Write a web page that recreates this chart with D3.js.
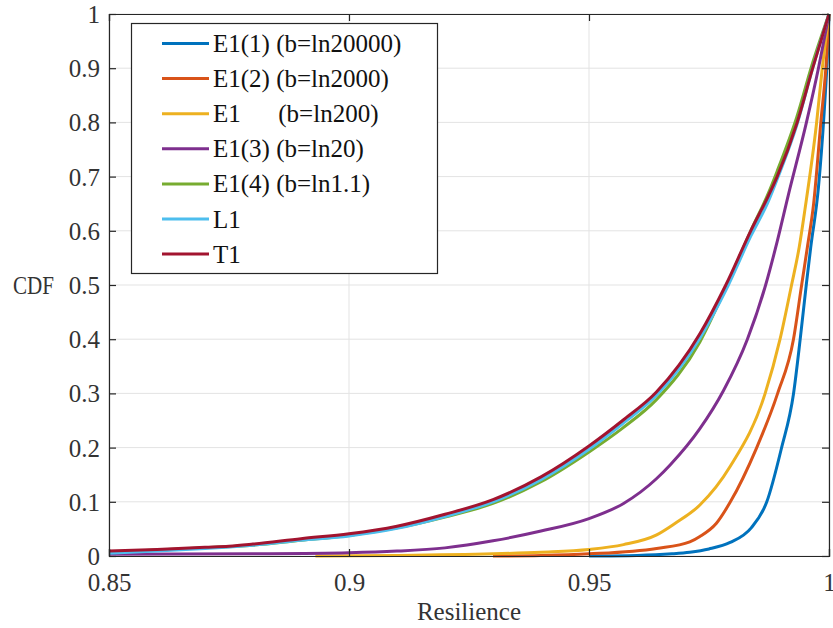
<!DOCTYPE html>
<html>
<head>
<meta charset="utf-8">
<script src="https://cdn.jsdelivr.net/npm/d3@7"></script>
<style>
  html, body { margin: 0; padding: 0; background: #fff; }
  svg { display: block; }
  svg text { font-family: "Liberation Serif", Tinos, "Times New Roman", Times, "DejaVu Serif", serif; }
  .lbl { white-space: pre; }
</style>
</head>
<body>
<svg id="chart" width="833" height="628"></svg>
<script>
// Empirical CDFs of resilience for each scheme, as [resilience, CDF] pairs
const seriesNames = [
  "E1(1) (b=ln20000)",
  "E1(2) (b=ln2000)",
  "E1      (b=ln200)",
  "E1(3) (b=ln20)",
  "E1(4) (b=ln1.1)",
  "L1",
  "T1"
];
const seriesColors = ["#0072BD", "#D95319", "#EDB120", "#7E2F8E", "#77AC30", "#4DBEEE", "#A2142F"];

const e1_1 = [[0.95,0.0],[0.96,0.001],[0.9673,0.004],[0.971,0.007],[0.975,0.013],[0.9794,0.025],[0.9838,0.052],[0.987,0.099],[0.9901,0.199],[0.9926,0.299],[0.994,0.40],[0.9953,0.503],[0.9962,0.57],[0.9978,0.68],[0.999,0.82],[0.9997,0.93],[1.0,1.0]];
const e1_2 = [[0.93,0.0],[0.94,0.001],[0.95,0.004],[0.9641,0.014],[0.971,0.026],[0.9731,0.036],[0.9765,0.06],[0.9794,0.099],[0.9849,0.199],[0.9893,0.30],[0.9926,0.40],[0.9943,0.50],[0.9955,0.57],[0.9968,0.65],[0.9983,0.80],[0.9995,0.92],[1.0,1.0]];
const e1 = [[0.893,0.0],[0.91,0.001],[0.93,0.004],[0.94,0.007],[0.95,0.012],[0.9572,0.021],[0.9641,0.039],[0.9679,0.06],[0.9731,0.094],[0.9794,0.165],[0.9867,0.30],[0.9898,0.40],[0.9922,0.50],[0.9938,0.57],[0.995,0.64],[0.9974,0.798],[0.9986,0.9],[1.0,1.0]];
const e1_3 = [[0.85,0.003],[0.88,0.004],[0.90,0.006],[0.91,0.009],[0.92,0.015],[0.93,0.028],[0.94,0.046],[0.95,0.069],[0.9572,0.097],[0.9641,0.143],[0.9669,0.168],[0.9731,0.235],[0.978,0.305],[0.983,0.40],[0.9868,0.50],[0.9892,0.58],[0.9915,0.665],[0.9953,0.80],[0.9978,0.90],[1.0,1.0]];
const e1_4 = [[0.85,0.007],[0.86,0.011],[0.87,0.015],[0.88,0.020],[0.89,0.029],[0.90,0.038],[0.91,0.052],[0.92,0.072],[0.93,0.097],[0.94,0.137],[0.95,0.192],[0.957,0.236],[0.964,0.288],[0.9731,0.395],[0.9785,0.495],[0.9837,0.60],[0.9874,0.67],[0.9892,0.71],[0.9933,0.81],[0.9966,0.91],[1.0,1.0]];
const l1 = [[0.85,0.005],[0.86,0.009],[0.87,0.014],[0.88,0.020],[0.89,0.029],[0.90,0.037],[0.91,0.051],[0.92,0.073],[0.93,0.100],[0.94,0.141],[0.95,0.197],[0.957,0.244],[0.964,0.296],[0.9731,0.402],[0.9785,0.49],[0.9837,0.59],[0.9874,0.655],[0.9892,0.695],[0.9933,0.795],[0.9966,0.90],[1.0,1.0]];
const t1 = [[0.85,0.009],[0.86,0.012],[0.87,0.016],[0.875,0.018],[0.88,0.022],[0.89,0.032],[0.90,0.041],[0.91,0.055],[0.92,0.077],[0.93,0.104],[0.94,0.146],[0.95,0.203],[0.957,0.25],[0.964,0.302],[0.9731,0.41],[0.9785,0.50],[0.9837,0.60],[0.9874,0.665],[0.9892,0.70],[0.9933,0.798],[0.9966,0.90],[1.0,1.0]];
const seriesData = [e1_1, e1_2, e1, e1_3, e1_4, l1, t1];

const xTicks = [0.85, 0.9, 0.95, 1];
const yTicks = [0, 0.1, 0.2, 0.3, 0.4, 0.5, 0.6, 0.7, 0.8, 0.9, 1];
const xLabel = "Resilience";
const yLabel = "CDF";

const serifFont = '"Liberation Serif", Tinos, "Times New Roman", Times, "DejaVu Serif", serif';
const margin = { left: 109, right: 4, top: 14, bottom: 72 };
const W = 833, H = 628;
const svg = d3.select("#chart");

const x = d3.scaleLinear().domain([0.85, 1]).range([margin.left, W - margin.right]);
const y = d3.scaleLinear().domain([0, 1]).range([H - margin.bottom, margin.top]);

const axisColor = "#262626";
const fmt = d => String(+d.toFixed(2));

// grid
const grid = svg.append("g");
grid.selectAll(".gx").data(xTicks).join("line")
  .attr("x1", d => x(d)).attr("x2", d => x(d))
  .attr("y1", y(0)).attr("y2", y(1))
  .attr("stroke", "#e3e3e3").attr("stroke-width", 1);
grid.selectAll(".gy").data(yTicks).join("line")
  .attr("x1", x(0.85)).attr("x2", x(1))
  .attr("y1", d => y(d)).attr("y2", d => y(d))
  .attr("stroke", "#e3e3e3").attr("stroke-width", 1);

// curves
const line = d3.line().x(d => x(d[0])).y(d => y(d[1])).curve(d3.curveMonotoneX);
const plot = svg.append("g");
seriesData.forEach((s, i) => {
  plot.append("path").datum(s)
    .attr("d", line)
    .attr("fill", "none")
    .attr("stroke", seriesColors[i])
    .attr("stroke-width", 3)
    .attr("stroke-linejoin", "round");
});

// axes: ticks pointing inward on all four sides
const tickLen = 7;
const axBottom = svg.append("g").attr("transform", `translate(0,${y(0)})`)
  .call(d3.axisBottom(x).tickValues(xTicks).tickSize(-tickLen).tickPadding(tickLen + 10).tickFormat(fmt));
const axTop = svg.append("g").attr("transform", `translate(0,${y(1)})`)
  .call(d3.axisTop(x).tickValues(xTicks).tickSize(-tickLen).tickFormat(""));
const axLeft = svg.append("g").attr("transform", `translate(${x(0.85)},0)`)
  .call(d3.axisLeft(y).tickValues(yTicks).tickSize(-tickLen).tickPadding(tickLen + 2).tickFormat(fmt));
const axRight = svg.append("g").attr("transform", `translate(${x(1)},0)`)
  .call(d3.axisRight(y).tickValues(yTicks).tickSize(-tickLen).tickFormat(""));

[axBottom, axTop, axLeft, axRight].forEach(g => {
  g.attr("font-family", serifFont).attr("font-size", 25);
  g.select(".domain").attr("stroke", axisColor).attr("stroke-width", 1.2);
  g.selectAll(".tick line").attr("stroke", axisColor).attr("stroke-width", 1.2);
  g.selectAll(".tick text").attr("fill", "#333").attr("font-family", serifFont).attr("font-size", 25);
});
axBottom.selectAll(".tick text").attr("dy", "0.71em");
axLeft.selectAll(".tick text").attr("dy", "0.34em");

// axis labels
svg.append("text")
  .attr("x", x(0.925)).attr("y", 620)
  .attr("text-anchor", "middle")
  .attr("fill", "#333")
  .attr("font-family", serifFont).attr("font-size", 25)
  .text(xLabel);
svg.append("text")
  .attr("x", 13).attr("y", 294)
  .attr("fill", "#333")
  .attr("font-family", serifFont).attr("font-size", 25)
  .attr("textLength", 41).attr("lengthAdjust", "spacingAndGlyphs")
  .text(yLabel);

// legend
const lg = svg.append("g");
lg.append("rect")
  .attr("x", 131.5).attr("y", 23.5).attr("width", 306).attr("height", 250)
  .attr("fill", "#fff").attr("stroke", axisColor).attr("stroke-width", 1.2);
const rowY = i => 43.5 + i * 35.1;
seriesNames.forEach((name, i) => {
  lg.append("line")
    .attr("x1", 162).attr("x2", 209)
    .attr("y1", rowY(i)).attr("y2", rowY(i))
    .attr("stroke", seriesColors[i]).attr("stroke-width", 3);
  lg.append("text")
    .attr("class", "lbl")
    .attr("x", 213).attr("y", rowY(i))
    .attr("dy", "0.34em")
    .attr("fill", "#111")
    .attr("font-family", serifFont).attr("font-size", 25)
    .text(name);
});
</script>
</body>
</html>
